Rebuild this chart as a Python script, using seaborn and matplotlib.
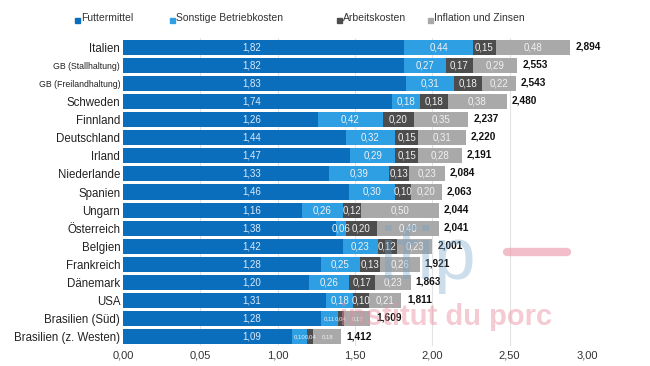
import pandas as pd
import seaborn as sns
import matplotlib.pyplot as plt
from matplotlib.patches import Rectangle

# Daten (Kosten je kg)
laender = ["Italien", "GB (Stallhaltung)", "GB (Freilandhaltung)", "Schweden", "Finnland",
           "Deutschland", "Irland", "Niederlande", "Spanien", "Ungarn", "Österreich",
           "Belgien", "Frankreich", "Dänemark", "USA", "Brasilien (Süd)", "Brasilien (z. Westen)"]
futtermittel = [1.82, 1.82, 1.83, 1.74, 1.26, 1.44, 1.47, 1.33, 1.46, 1.16, 1.38, 1.42, 1.28, 1.20, 1.31, 1.28, 1.09]
sonstige = [0.44, 0.27, 0.31, 0.18, 0.42, 0.32, 0.29, 0.39, 0.30, 0.26, 0.06, 0.23, 0.25, 0.26, 0.18, 0.11, 0.10]
arbeit = [0.15, 0.17, 0.18, 0.18, 0.20, 0.15, 0.15, 0.13, 0.10, 0.12, 0.20, 0.12, 0.13, 0.17, 0.10, 0.04, 0.04]
inflation = [0.48, 0.29, 0.22, 0.38, 0.35, 0.31, 0.28, 0.23, 0.20, 0.50, 0.40, 0.23, 0.26, 0.23, 0.21, 0.17, 0.18]
gesamt = [2.894, 2.553, 2.543, 2.480, 2.237, 2.220, 2.191, 2.084, 2.063, 2.044, 2.041, 2.001, 1.921, 1.863, 1.811, 1.609, 1.412]
x_ticks = [0, 0.5, 1.0, 1.5, 2.0, 2.5, 3.0]
x_tick_labels = ["0,00", "0,05", "1,00", "1,50", "2,00", "2,50", "3,00"]

serien = ["Futtermittel", "Sonstige Betriebkosten", "Arbeitskosten", "Inflation und Zinsen"]
farben = ["#0a6ebd", "#2e9fe3", "#4d4d4d", "#a9a9a9"]

df = pd.DataFrame({"Land": laender, serien[0]: futtermittel, serien[1]: sonstige,
                   serien[2]: arbeit, serien[3]: inflation})
kum = df[serien].cumsum(axis=1)
links = kum.shift(1, axis=1).fillna(0)

sns.set_theme(style="white")
plt.rcParams["font.family"] = ["Liberation Sans", "DejaVu Sans"]

fig = plt.figure(figsize=(6.5, 3.66), dpi=100)
ax = fig.add_axes([123 / 650, 1 - 346 / 366, (587 - 123) / 650, (346 - 38) / 366])

# vertikale Gitterlinien
for t in x_ticks[1:]:
    ax.axvline(t, color="#e3e3e3", lw=0.8, zorder=0)

# gestapelte Balken: kumulierte Summen von hinten nach vorne
for s, c in reversed(list(zip(serien, farben))):
    sns.barplot(x=kum[s], y=df["Land"], color=c, orient="h", width=0.83,
                saturation=1, linewidth=0, edgecolor="none", ax=ax, zorder=2)

ax.set_xlim(0, 3.0)
ax.set_ylim(len(laender) - 0.5, -0.5)
ax.set_xlabel("")
ax.set_ylabel("")
ax.set_xticks(x_ticks)
ax.set_xticklabels(x_tick_labels, fontsize=8, color="#333333")
ax.tick_params(axis="x", length=0, pad=3)
ax.tick_params(axis="y", length=0, pad=2)
for lbl in ax.get_yticklabels():
    lbl.set_fontsize(6.3 if lbl.get_text().startswith("GB") else 8.3)
    lbl.set_color("#222222")
sns.despine(ax=ax, left=True, bottom=True)

# Wertebeschriftungen
for i in range(len(laender)):
    klein = i >= 15
    ax.text(0.83, i, f"{futtermittel[i]:.2f}".replace(".", ","), ha="center", va="center",
            color="#dceaf7", fontsize=7, zorder=5)
    for j, s in enumerate(serien[1:], start=1):
        v = df.loc[i, s]
        mitte = links.loc[i, s] + v / 2
        ax.text(mitte, i, f"{v:.2f}".replace(".", ","), ha="center", va="center",
                color="#f2f2f2", fontsize=4.3 if klein else 7, zorder=5)
    ax.text(gesamt[i] + 0.03, i - 0.05, f"{gesamt[i]:.3f}".replace(".", ","), ha="left",
            va="center", color="#111111", fontsize=7.3, fontweight="bold", zorder=5,
            clip_on=False)

# Wasserzeichen
ax.text(1.66, 11.7, "ifip", fontsize=54, color="#6f9fc8", alpha=0.35, ha="left",
        va="center", zorder=6)
ax.plot([2.48, 2.87], [11.3, 11.3], color="#e88a9e", lw=6, alpha=0.55,
        solid_capstyle="round", zorder=6)
ax.text(1.40, 14.9, "institut du porc", fontsize=21, color="#e88a9e", alpha=0.45,
        fontweight="bold", ha="left", va="center", zorder=6)

# Legende
leg_x = [75, 170, 337, 428]
for xx, s, c in zip(leg_x, serien, farben):
    fig.patches.append(Rectangle((xx / 650, 1 - 23 / 366), 5 / 650, 5 / 366,
                                 transform=fig.transFigure, color=c, figure=fig))
    fig.text((xx + 6) / 650, 1 - 18 / 366, s, fontsize=7.5, color="#333333",
             ha="left", va="center")

fig.savefig("out.png", dpi=100)
